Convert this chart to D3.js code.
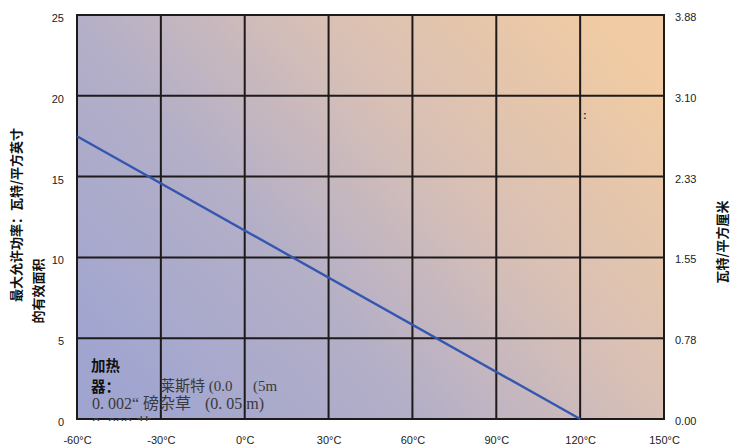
<!DOCTYPE html>
<html>
<head>
<meta charset="utf-8">
<script src="https://cdn.jsdelivr.net/npm/d3@7"></script>
<style>
  body { margin: 0; background: #fff; }
</style>
</head>
<body>
<div id="chart-area"></div>
<script>
// data
var temps = [-60, 120];
var watts = [17.5, 0];
var xTicks = [-60, -30, 0, 30, 60, 90, 120, 150];
var yTicks = [0, 5, 10, 15, 20, 25];
var rightLabels = ["0.00", "0.78", "1.55", "2.33", "3.10", "3.88"];

var W = 741, H = 447;
var m = {left: 77, right: 77, top: 15, bottom: 28};
var sans = "'Liberation Sans', Arial, 'Noto Sans CJK SC', sans-serif";
var cjk = "'Noto Sans CJK SC', sans-serif";
var ser = "'Liberation Serif', 'Noto Sans CJK SC', serif";

var svg = d3.select("#chart-area").append("svg")
    .attr("width", W)
    .attr("height", H);

var x = d3.scaleLinear().domain([-60, 150]).range([m.left, W - m.right]);
var y = d3.scaleLinear().domain([0, 25]).range([H - m.bottom, m.top]);

var defs = svg.append("defs");
var grad = defs.append("linearGradient")
    .attr("id", "bg")
    .attr("x1", 0).attr("y1", 0.8)
    .attr("x2", 1).attr("y2", 0.2);
grad.append("stop").attr("offset", 0).attr("stop-color", "#a0a5d0");
grad.append("stop").attr("offset", 0.35).attr("stop-color", "#b4afc7");
grad.append("stop").attr("offset", 0.65).attr("stop-color", "#d9c0b5");
grad.append("stop").attr("offset", 1).attr("stop-color", "#f0cba3");

defs.append("clipPath").attr("id", "plot")
  .append("rect")
    .attr("x", x(-60)).attr("y", y(25))
    .attr("width", x(150) - x(-60)).attr("height", y(0) - y(25) + 2);

svg.append("rect")
    .attr("x", x(-60)).attr("y", y(25))
    .attr("width", x(150) - x(-60)).attr("height", y(0) - y(25))
    .attr("fill", "url(#bg)");

// grid
svg.selectAll(".vgrid").data(xTicks).enter().append("line")
    .attr("x1", d => x(d)).attr("x2", d => x(d))
    .attr("y1", y(0) + 1).attr("y2", y(25) - 1)
    .attr("stroke", "#1e1a1a").attr("stroke-width", 2);
svg.selectAll(".hgrid").data(yTicks).enter().append("line")
    .attr("x1", x(-60)).attr("x2", x(150))
    .attr("y1", d => y(d)).attr("y2", d => y(d))
    .attr("stroke", "#1e1a1a").attr("stroke-width", 2);

// line
var line = d3.line().x(d => x(d[0])).y(d => y(d[1]));
svg.append("path")
    .datum(temps.map((t, i) => [t, watts[i]]))
    .attr("d", line)
    .attr("fill", "none")
    .attr("stroke", "#3556b0")
    .attr("stroke-width", 2.4);

// axes
var xAxis = svg.append("g")
    .attr("transform", "translate(0," + (y(0) + 14) + ")")
    .call(d3.axisBottom(x).tickValues(xTicks).tickSize(0).tickFormat(d => d + "°C"));
var yAxis = svg.append("g")
    .attr("transform", "translate(" + (x(-60) - 10) + ",3)")
    .call(d3.axisLeft(y).tickValues(yTicks).tickSize(0));
var yRight = svg.append("g")
    .attr("transform", "translate(" + (x(150) + 8) + ",2)")
    .call(d3.axisRight(y).tickValues(yTicks).tickSize(0).tickFormat((d, i) => rightLabels[i]));
[xAxis, yAxis, yRight].forEach(g => {
    g.attr("font-family", null).attr("font-size", null);
    g.select(".domain").remove();
    g.selectAll("text").attr("fill", "#222")
        .style("font-size", "11px")
        .style("font-family", sans);
});

// axis titles
function title(tx, ty, s) {
    svg.append("text")
        .attr("transform", "translate(" + tx + "," + ty + ") rotate(-90)")
        .attr("text-anchor", "middle")
        .attr("fill", "#111")
        .style("font-size", "13px").style("font-weight", "bold")
        .style("font-family", cjk)
        .text(s);
}
title(21, 215, "最大允许功率：瓦特/平方英寸");
title(43, 291, "的有效面积");
title(727, 242, "瓦特/平方厘米");

// annotation inside the plot
var note = svg.append("g").attr("clip-path", "url(#plot)");
function noteText(tx, ty, s, bold, size) {
    note.append("text").attr("x", tx).attr("y", ty)
        .attr("fill", bold ? "#111" : "#3a3a3a")
        .style("font-size", size + "px")
        .style("font-weight", bold ? "bold" : "normal")
        .style("font-family", bold ? cjk : ser)
        .text(s);
}
noteText(91, 371, "加热", true, 14.5);
noteText(91, 392, "器：", true, 14.5);
noteText(160, 391, "莱斯特 (0.0", false, 15);
noteText(253, 391, "(5m", false, 15);
noteText(92, 409, "0. 002“", false, 16);
noteText(143, 409, "磅杂草", false, 16);
noteText(205, 409, "(0. 05 m)", false, 16);
noteText(92, 429, "0. 000 艹", false, 16);

svg.append("text").attr("x", 583).attr("y", 119)
    .attr("fill", "#333")
    .style("font-size", "11px").style("font-weight", "bold")
    .style("font-family", sans)
    .text(":");
</script>
</body>
</html>
